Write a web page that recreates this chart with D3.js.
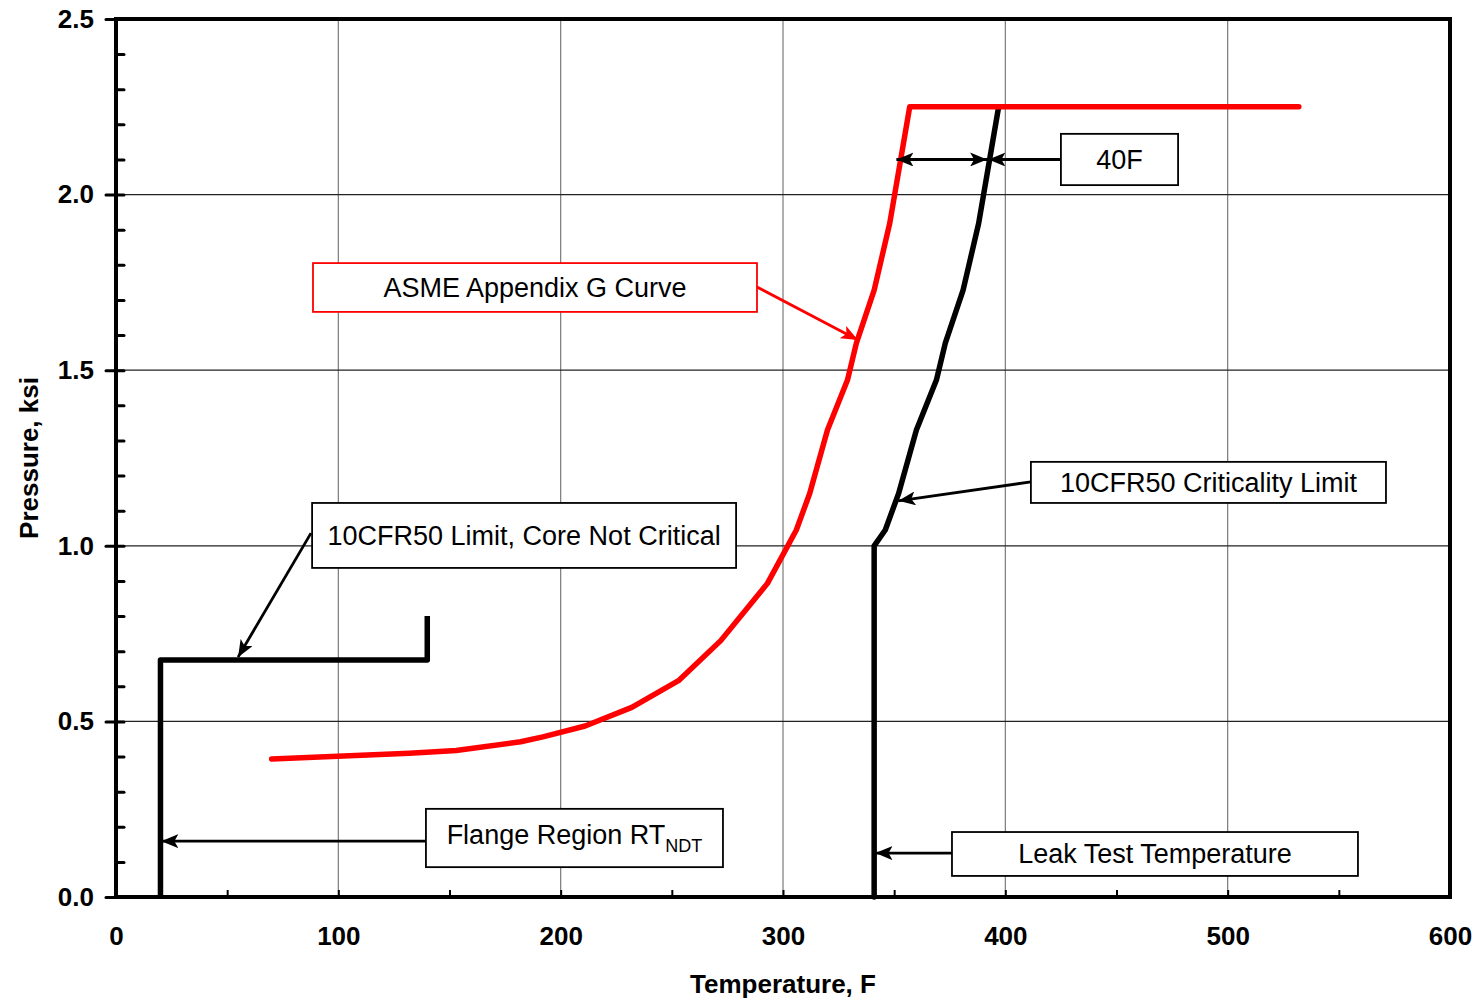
<!DOCTYPE html>
<html>
<head>
<meta charset="utf-8">
<script src="https://cdn.jsdelivr.net/npm/d3@7"></script>
<style>
  body { margin: 0; background: #fff; }
  text { font-family: "Liberation Sans", Arial, sans-serif; }
</style>
</head>
<body>
<div id="chart"></div>
<script>
// ---- data ----
var TEMP_TICKS = [0, 100, 200, 300, 400, 500, 600];
var TEMP_MINOR = [50, 150, 250, 350, 450, 550];
var PRESS_TICKS = [0, 0.5, 1.0, 1.5, 2.0, 2.5];
var PRESS_MINOR = [0.1, 0.2, 0.3, 0.4, 0.6, 0.7, 0.8, 0.9, 1.1, 1.2, 1.3, 1.4, 1.6, 1.7, 1.8, 1.9, 2.1, 2.2, 2.3, 2.4];

// ASME Appendix G curve (red)
var ASME_TEMP  = [70, 132, 153, 182, 192, 211, 232, 253, 272, 293, 306, 312, 320, 329, 333, 341, 348, 357, 532];
var ASME_PRESS = [0.393, 0.409, 0.417, 0.442, 0.456, 0.487, 0.540, 0.616, 0.730, 0.893, 1.045, 1.149, 1.330, 1.472, 1.577, 1.728, 1.918, 2.250, 2.250];

// 10CFR50 criticality limit (black)
var CRIT_TEMP  = [341, 341, 346, 352, 360, 369, 373, 381, 388, 397];
var CRIT_PRESS = [0, 1.0, 1.045, 1.149, 1.330, 1.472, 1.577, 1.728, 1.918, 2.250];

// 10CFR50 limit, core not critical (black)
var FLANGE_TEMP  = [20, 20, 140, 140];
var FLANGE_PRESS = [0, 0.675, 0.675, 0.8];

// callouts, in data units: box [t0, t1, p0, p1], arrows [[tFrom, pFrom, tTo, pTo], ...]
var CALLOUTS = [
    {text: "ASME Appendix G Curve", box: [88.6, 288.3, 1.666, 1.805], arrows: [[288.3, 1.737, 333.7, 1.586]], red: true},
    {text: "40F", box: [425.0, 477.7, 2.027, 2.173], arrows: [[425.0, 2.1, 392.4, 2.1]]},
    {text: "10CFR50 Criticality Limit", box: [411.5, 571.2, 1.122, 1.239], arrows: [[411.5, 1.182, 351.9, 1.128]]},
    {text: "10CFR50 Limit, Core Not Critical", box: [88.2, 278.9, 0.937, 1.122], arrows: [[87.7, 1.036, 54.9, 0.683]]},
    {text: "Flange Region RT", sub: "NDT", box: [139.4, 273.0, 0.085, 0.251], arrows: [[139.4, 0.159, 20.4, 0.159]]},
    {text: "Leak Test Temperature", box: [376.0, 558.6, 0.060, 0.185], arrows: [[376.0, 0.125, 341.6, 0.125]]}
];
// double headed 40F span between the two curves
var SPAN_40F = [351.0, 391.8, 2.1];

var width = 1478, height = 999;
var svg = d3.select("#chart").append("svg")
    .attr("width", width)
    .attr("height", height);

var x = d3.scaleLinear().domain([0, 600]).range([116, 1450]);
var y = d3.scaleLinear().domain([0, 2.5]).range([897, 19]);

// arrow markers
var defs = svg.append("defs");
[["head-black", "#000"], ["head-red", "#f00"]].forEach(function(m) {
    defs.append("marker")
        .attr("id", m[0])
        .attr("markerUnits", "userSpaceOnUse")
        .attr("viewBox", "0 0 17 14")
        .attr("refX", 17).attr("refY", 7)
        .attr("markerWidth", 17).attr("markerHeight", 14)
        .attr("orient", "auto-start-reverse")
        .append("path")
            .attr("d", "M0,0 L17,7 L0,14 L4,7 Z")
            .attr("fill", m[1]);
});

// gridlines
svg.append("g").selectAll("line")
    .data(TEMP_TICKS.slice(1, -1))
    .join("line")
        .attr("x1", function(d) { return x(d); })
        .attr("x2", function(d) { return x(d); })
        .attr("y1", y(0)).attr("y2", y(2.5))
        .attr("stroke", "#7a7a7a")
        .attr("stroke-width", 1.2);
svg.append("g").selectAll("line")
    .data(PRESS_TICKS.slice(1, -1))
    .join("line")
        .attr("x1", x(0)).attr("x2", x(600))
        .attr("y1", function(d) { return y(d); })
        .attr("y2", function(d) { return y(d); })
        .attr("stroke", "#222")
        .attr("stroke-width", 1.2);

// axes
var yAxis = svg.append("g")
    .attr("transform", "translate(" + x(0) + ",0)")
    .call(d3.axisLeft(y).tickValues(PRESS_TICKS).tickSize(10).tickPadding(12)
        .tickFormat(d3.format(".1f")));
yAxis.select(".domain").remove();
yAxis.selectAll(".tick line").attr("stroke-width", 3).attr("stroke-linecap", "round");
yAxis.selectAll(".tick text")
    .attr("font-size", 26).attr("font-weight", "bold")
    .attr("font-family", "Liberation Sans, Arial, sans-serif");

var yInner = svg.append("g")
    .attr("transform", "translate(" + x(0) + ",0)")
    .call(d3.axisLeft(y).tickValues(PRESS_TICKS.concat(PRESS_MINOR)).tickSize(-8).tickFormat(""));
yInner.select(".domain").remove();
yInner.selectAll(".tick line").attr("stroke-width", 3).attr("stroke-linecap", "round");

var xAxis = svg.append("g")
    .attr("transform", "translate(0," + y(0) + ")")
    .call(d3.axisBottom(x).tickValues(TEMP_TICKS).tickSize(0).tickPadding(30));
xAxis.select(".domain").remove();
xAxis.selectAll(".tick text")
    .attr("font-size", 26).attr("font-weight", "bold")
    .attr("font-family", "Liberation Sans, Arial, sans-serif");

var xInner = svg.append("g")
    .attr("transform", "translate(0," + y(0) + ")")
    .call(d3.axisBottom(x).tickValues(TEMP_TICKS.concat(TEMP_MINOR)).tickSize(-7).tickFormat(""));
xInner.select(".domain").remove();
xInner.selectAll(".tick line").attr("stroke-width", 2);

// plot frame
svg.append("rect")
    .attr("x", x(0)).attr("y", y(2.5))
    .attr("width", x(600) - x(0))
    .attr("height", y(0) - y(2.5))
    .attr("fill", "none")
    .attr("stroke", "#000")
    .attr("stroke-width", 4);

// axis titles
svg.append("text")
    .attr("x", (x(0) + x(600)) / 2)
    .attr("y", 993)
    .attr("text-anchor", "middle")
    .attr("font-size", 26).attr("font-weight", "bold")
    .text("Temperature, F");
svg.append("text")
    .attr("transform", "translate(38," + (y(0) + y(2.5)) / 2 + ") rotate(-90)")
    .attr("text-anchor", "middle")
    .attr("font-size", 26).attr("font-weight", "bold")
    .text("Pressure, ksi");

// curves
var line = d3.line()
    .x(function(d) { return x(d[0]); })
    .y(function(d) { return y(d[1]); });

var zip = function(a, b) { return a.map(function(v, i) { return [v, b[i]]; }); };

svg.append("path")
    .datum(zip(FLANGE_TEMP, FLANGE_PRESS))
    .attr("fill", "none").attr("stroke", "#000")
    .attr("stroke-width", 5.5).attr("stroke-linejoin", "round")
    .attr("d", line);
svg.append("path")
    .datum(zip(CRIT_TEMP, CRIT_PRESS))
    .attr("fill", "none").attr("stroke", "#000")
    .attr("stroke-width", 5.5).attr("stroke-linejoin", "round").attr("stroke-linecap", "round")
    .attr("d", line);
svg.append("path")
    .datum(zip(ASME_TEMP, ASME_PRESS))
    .attr("fill", "none").attr("stroke", "#ff0000")
    .attr("stroke-width", 5.5).attr("stroke-linejoin", "round").attr("stroke-linecap", "round")
    .attr("d", line);

// callouts
CALLOUTS.forEach(function(c) {
    var col = c.red ? "#ff0000" : "#000";
    c.arrows.forEach(function(a) {
        svg.append("line")
            .attr("x1", x(a[0])).attr("y1", y(a[1]))
            .attr("x2", x(a[2])).attr("y2", y(a[3]))
            .attr("stroke", col).attr("stroke-width", 2.8)
            .attr("marker-end", "url(#" + (c.red ? "head-red" : "head-black") + ")");
    });
    var bx0 = x(c.box[0]), bx1 = x(c.box[1]);
    var by0 = y(c.box[3]), by1 = y(c.box[2]);
    svg.append("rect")
        .attr("x", bx0).attr("y", by0)
        .attr("width", bx1 - bx0).attr("height", by1 - by0)
        .attr("fill", "#fff")
        .attr("stroke", col).attr("stroke-width", 1.8);
    var t = svg.append("text")
        .attr("x", (bx0 + bx1) / 2)
        .attr("y", (by0 + by1) / 2 + 9.5)
        .attr("text-anchor", "middle")
        .attr("font-size", 27)
        .attr("fill", "#000")
        .text(c.text);
    if (c.sub) {
        t.text(null);
        t.attr("y", (by0 + by1) / 2 + 6);
        t.append("tspan").text(c.text);
        t.append("tspan").attr("font-size", 18).attr("dy", 8).text(c.sub);
    }
});

svg.append("line")
    .attr("x1", x(SPAN_40F[0])).attr("y1", y(SPAN_40F[2]))
    .attr("x2", x(SPAN_40F[1])).attr("y2", y(SPAN_40F[2]))
    .attr("stroke", "#000").attr("stroke-width", 2.8)
    .attr("marker-start", "url(#head-black)")
    .attr("marker-end", "url(#head-black)");
</script>
</body>
</html>
